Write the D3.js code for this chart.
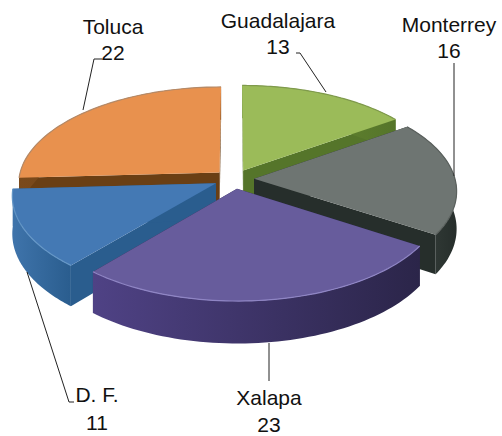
<!DOCTYPE html>
<html>
<head>
<meta charset="utf-8">
<script src="https://cdn.jsdelivr.net/npm/d3@7"></script>
<style>
  html, body { margin: 0; padding: 0; background: #fff; }
  svg { display: block; }
  text { font-family: "Liberation Sans", Arial, sans-serif; font-size: 21px; fill: #111; }
</style>
</head>
<body>
<svg id="chart" width="502" height="436"></svg>
<script>
var cities = ["Guadalajara", "Monterrey", "Xalapa", "D. F.", "Toluca"];
var counts = [13, 16, 23, 11, 22];
var topColors = ["#9bbb59", "#6e7572", "#675c9c", "#4479b4", "#e8914e"];
var wallLight = ["#6d8f35", "#3a433f", "#4f4285", "#3f74ab", "#7a4a1c"];
var wallDark = ["#55752a", "#262e2b", "#2b2549", "#2a5d8e", "#6a3f14"];
var rimColors = ["#7f9a4c", "#5b615e", "#8f85c4", "#6496c6", "#b58a68"];

// label anchor (centre x, baseline of the name, baseline of the number)
var labelPos = [[278, 28, 54], [449, 32, 58], [269, 405, 432], [97, 402, 430], [113, 34, 60]];
var leaders = [
  [[296, 53], [300, 53], [326, 92]],
  [[454, 63], [454, 176]],
  [[269, 343], [269, 381]],
  [[74, 402], [69, 402], [27, 272]],
  [[102, 59], [94, 59], [83, 110]]
];

var cx = 234,
  cy = 179,
  radius = 201,
  explode = 20,
  depth = 37,
  tilt = 0.482,
  persp = 0.00058;

var svg = d3.select("#chart");
var defs = svg.append("defs");

// ground plane -> screen, far side is drawn smaller
function project(wx, wz, drop) {
  var s = 1 / (1 + wz * persp);
  return [cx + wx * s, cy - wz * tilt * s + (drop || 0) * s];
}

var pie = d3
  .pie()
  .sort(null)
  .value(function (d) {
    return d;
  });
var slices = pie(counts).map(function (d, i) {
  var mid = (d.startAngle + d.endAngle) / 2;
  return {
    i: i,
    a0: d.startAngle,
    a1: d.endAngle,
    ox: explode * Math.sin(mid),
    oz: explode * Math.cos(mid)
  };
});

function rimPoint(s, a, drop) {
  return project(s.ox + radius * Math.sin(a), s.oz + radius * Math.cos(a), drop);
}
function tipPoint(s, drop) {
  return project(s.ox, s.oz, drop);
}
function arcPoints(s, drop) {
  return d3.range(0, 61).map(function (k) {
    return rimPoint(s, s.a0 + ((s.a1 - s.a0) * k) / 60, drop);
  });
}

var line = d3.line();

// back slices first so the front ones sit on top of them
var drawOrder = [4, 0, 1, 3, 2];
drawOrder.forEach(function (idx) {
  var s = slices[idx];
  var g = svg.append("g").attr("class", "slice");

  var gradId = "wall" + idx;
  var arcTop = arcPoints(s, 0);
  var grad = defs
    .append("linearGradient")
    .attr("id", gradId)
    .attr("gradientUnits", "userSpaceOnUse")
    .attr("x1", d3.min(arcTop, function (p) { return p[0]; }))
    .attr("x2", d3.max(arcTop, function (p) { return p[0]; }))
    .attr("y1", 0)
    .attr("y2", 0);
  grad.append("stop").attr("offset", 0).attr("stop-color", wallLight[idx]);
  grad.append("stop").attr("offset", 1).attr("stop-color", wallDark[idx]);

  // the two cut faces
  [s.a0, s.a1].forEach(function (a) {
    g.append("path")
      .attr(
        "d",
        line([tipPoint(s, 0), rimPoint(s, a, 0), rimPoint(s, a, depth), tipPoint(s, depth)]) + "Z"
      )
      .attr("fill", wallDark[idx]);
  });

  // outer wall
  g.append("path")
    .attr("d", line(arcTop.concat(arcPoints(s, depth).reverse())) + "Z")
    .attr("fill", "url(#" + gradId + ")");

  // top face
  g.append("path")
    .attr("d", line([tipPoint(s, 0)].concat(arcTop)) + "Z")
    .attr("fill", topColors[idx]);

  // thin bevel along the rim
  g.append("path")
    .attr("d", line(arcTop))
    .attr("fill", "none")
    .attr("stroke", rimColors[idx])
    .attr("stroke-width", 1.2);
});

var leaderGroup = svg.append("g").attr("class", "leaders");
leaders.forEach(function (pts) {
  leaderGroup
    .append("path")
    .attr("d", line(pts))
    .attr("fill", "none")
    .attr("stroke", "#222")
    .attr("stroke-width", 1);
});

var labels = svg.append("g").attr("class", "labels");
cities.forEach(function (name, i) {
  labels
    .append("text")
    .attr("x", labelPos[i][0])
    .attr("y", labelPos[i][1])
    .attr("text-anchor", "middle")
    .text(name);
  labels
    .append("text")
    .attr("x", labelPos[i][0])
    .attr("y", labelPos[i][2])
    .attr("text-anchor", "middle")
    .text(counts[i]);
});
</script>
</body>
</html>
